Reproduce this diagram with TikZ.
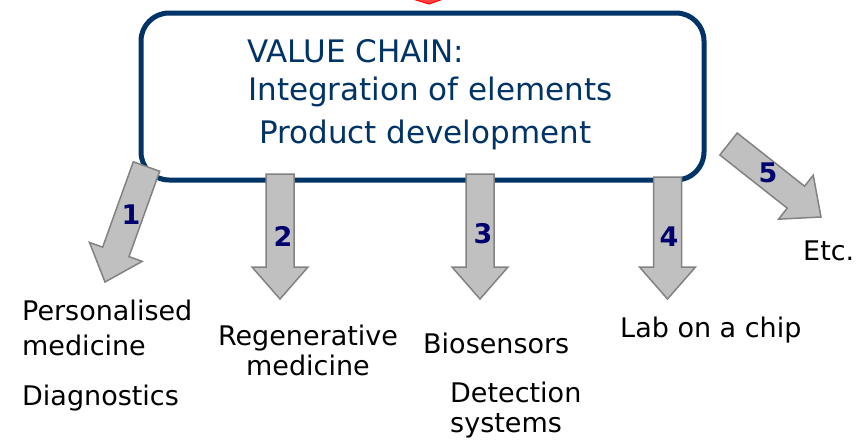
\documentclass[tikz,border=0pt]{standalone}
\usepackage{fontspec}
\setmainfont{DejaVu Sans}
\usepackage{tikz}
\usetikzlibrary{calc}

\definecolor{chainblue}{RGB}{0,51,102}
\definecolor{numblue}{RGB}{0,0,110}
\definecolor{arrowfill}{RGB}{192,192,192}
\definecolor{arrowline}{RGB}{130,130,130}

\tikzset{
	chainbox/.style={draw=chainblue,line width=5pt,rounded corners=28pt,fill=white},
	chaintext/.style={anchor=base west,inner sep=0pt,text=chainblue,font=\fontsize{31}{36}\selectfont},
	blockarr/.style={fill=arrowfill,draw=arrowline,line width=1.5pt,line join=miter},
	num/.style={inner sep=0pt,text=numblue,font=\bfseries\fontsize{27}{30}\selectfont},
	lbl/.style={inner sep=0pt,text=black,font=\fontsize{27}{30}\selectfont}
}

\newcommand{\blkarrow}[2]{%
	\coordinate (hb) at ($(#2)!32pt!(#1)$);
	\draw[blockarr] ($(#1)!14pt!90:(#2)$) -- ($(hb)!14pt!90:(#2)$)
		-- ($(hb)!28pt!90:(#2)$) -- (#2) -- ($(hb)!28pt!-90:(#2)$)
		-- ($(hb)!14pt!-90:(#2)$) -- ($(#1)!14pt!-90:(#2)$) -- cycle;
}

\begin{document}
\begin{tikzpicture}[x=1pt,y=-1pt]
\useasboundingbox (0,0) rectangle (858,440);

% tip of the red arrow above
\filldraw[fill=red!75,draw=red,line width=1pt] (406,-3) -- (449,-3) -- (429,4) -- cycle;

\node[chainbox,minimum width=563pt,minimum height=167pt] (chain) at (422.5,96.5) {};
\node[chaintext] (title) at (247,62) {VALUE CHAIN:};
\node[chaintext] (integ) at (248,100) {Integration of elements};
\node[chaintext] (prod) at (259,143) {Product development};

\foreach \i/\tx/\ty/\hx/\hy in {1/146.5/166.5/105/282, 2/280/174/280/299, 3/480/174/480/299, 4/667.5/177/667.5/299, 5/728.5/144/821/217}
	{
	\coordinate (tail\i) at (\tx,\ty);
	\coordinate (tip\i) at (\hx,\hy);
	\blkarrow{tail\i}{tip\i}
	}

\node[num] (n1) at (131,215) {1};
\node[num] (n2) at (283,236) {2};
\node[num] (n3) at (483,234) {3};
\node[num] (n4) at (669,237) {4};
\node[num] (n5) at (768,173) {5};

% multi-line labels: base is the last line
\node[lbl,anchor=base west,align=left,font=\fontsize{27}{35}\selectfont] (pers) at (22,355) {Personalised\\medicine};
\node[lbl,anchor=base west] (diag) at (22,405) {Diagnostics};
\node[lbl,anchor=base,align=center] (regen) at (308,375) {Regenerative\\medicine};
\node[lbl,anchor=base west] (bios) at (423,353) {Biosensors};
\node[lbl,anchor=base west,align=left] (detect) at (450,432) {Detection\\systems};
\node[lbl,anchor=base west] (lab) at (620,337) {Lab on a chip};
\node[lbl,anchor=base west] (etc) at (803,260) {Etc.};
\end{tikzpicture}
\end{document}
